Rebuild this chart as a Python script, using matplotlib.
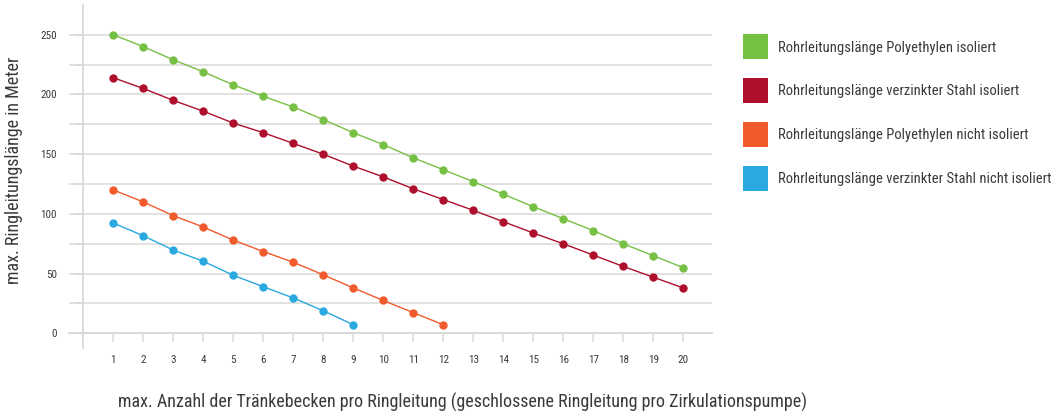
import matplotlib
matplotlib.use("Agg")
import matplotlib.pyplot as plt
from matplotlib.patches import Patch
from matplotlib.ticker import MultipleLocator
from matplotlib import font_manager

names = {f.name for f in font_manager.fontManager.ttflist}
fam = [n for n in ["Roboto Condensed", "Liberation Sans Narrow", "Lato", "DejaVu Sans"] if n in names]
plt.rcParams['font.family'] = fam

x_pe_iso = list(range(1, 21))
pe_iso = [250, 240, 229, 219, 208, 198.5, 189.5, 179, 168, 158,
          147, 137, 127, 116.5, 106, 96, 86, 75, 65, 55]
x_st_iso = list(range(1, 21))
st_iso = [214, 205, 195, 186, 176, 168, 159, 150, 140, 131,
          121, 112, 103, 93.5, 84, 75, 65.5, 56, 47, 38]
x_pe_nis = list(range(1, 13))
pe_nis = [120, 110, 98.5, 89, 78, 68.5, 59.5, 49, 38, 27.5, 17.3, 7.2]
x_st_nis = list(range(1, 10))
st_nis = [92.3, 81.7, 69.7, 60.3, 48.6, 39, 29.6, 18.9, 7.2]

labels = ["Rohrleitungslänge Polyethylen isoliert",
          "Rohrleitungslänge verzinkter Stahl isoliert",
          "Rohrleitungslänge Polyethylen nicht isoliert",
          "Rohrleitungslänge verzinkter Stahl nicht isoliert"]
colors = ["#76c043", "#ad0f2c", "#f15a2b", "#29a9e0"]
xticks = list(range(1, 21))
yticks = [0, 50, 100, 150, 200, 250]

W, H = 1060, 417
fig = plt.figure(figsize=(W / 100, H / 100), dpi=100)
L, R, T, B = 69, 712, 5, 348
ax = fig.add_axes([L / W, 1 - B / H, (R - L) / W, (B - T) / H])
ax.set_xlim(-0.477, 20.96)
ax.set_ylim(-12.3, 274.9)

gc = "#d9d9d9"
txt = "#3a3a3a"
for s in ["top", "right"]:
    ax.spines[s].set_visible(False)
ax.spines["left"].set_position(("data", 0))
ax.spines["bottom"].set_position(("data", 0))
ax.spines["left"].set_color(gc)
ax.spines["bottom"].set_color(gc)
ax.spines["left"].set_linewidth(1.3)
ax.spines["bottom"].set_linewidth(1.3)
ax.spines["bottom"].set_bounds(-0.477, 20.96)

ax.yaxis.set_minor_locator(MultipleLocator(25))
ax.set_yticks(yticks)
ax.set_xticks(xticks)
ax.set_xticklabels([str(v) for v in xticks])
ax.grid(True, axis="y", which="both", color=gc, linewidth=1.1)
ax.set_axisbelow(True)
ax.tick_params(axis="y", which="both", length=6, color=gc, width=1.1, pad=13,
               labelsize=8, labelcolor=txt)
ax.tick_params(axis="x", length=6.5, color=gc, width=1.1, pad=9,
               labelsize=8, labelcolor=txt)
ax.yaxis.get_major_ticks()[0].tick1line.set_markersize(10.5)

series = [(x_pe_iso, pe_iso), (x_st_iso, st_iso), (x_pe_nis, pe_nis), (x_st_nis, st_nis)]
for (xs, ys), c in zip(series, colors):
    ax.plot(xs, ys, color=c, lw=1.0, marker="o", ms=5, zorder=3, clip_on=False)

fig.text(14 / W, 1 - 170.5 / H, "max. Ringleitungslänge in Meter", rotation=90,
         ha="center", va="center", fontsize=13, color=txt)
fig.text(463 / W, 1 - 402 / H,
         "max. Anzahl der Tränkebecken pro Ringleitung (geschlossene Ringleitung pro Zirkulationspumpe)",
         ha="center", va="center", fontsize=13, color=txt)

fs = 10.5
handles = [Patch(facecolor=c, edgecolor="none") for c in colors]
fig.legend(handles, labels, loc="upper left", bbox_to_anchor=(743 / W, 1 - 34.5 / H),
           frameon=False, fontsize=fs, handlelength=1.715, handleheight=2.26,
           labelspacing=1.3, handletextpad=0.69, borderpad=0, borderaxespad=0,
           labelcolor=txt)

fig.savefig("out.png", dpi=100)
